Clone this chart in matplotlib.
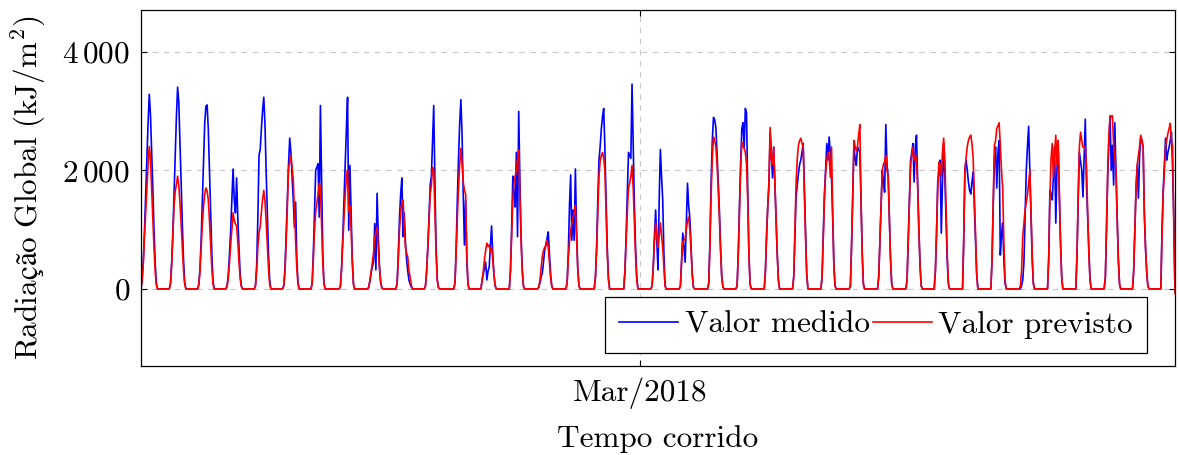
import datetime as dt
import numpy as np
import matplotlib
matplotlib.use("Agg")
import matplotlib.pyplot as plt
import matplotlib.dates as mdates

plt.rcParams['font.family'] = ['cmr10', 'STIXGeneral']
plt.rcParams['mathtext.fontset'] = 'cm'
plt.rcParams['axes.unicode_minus'] = False

# hourly series, Feb 11 09:00 to Mar 19 21:00 (night hours are zero)
inicio = dt.datetime(2018, 2, 11, 9)
fim = dt.datetime(2018, 3, 19, 21)
hora_inicio_dia = 10  # first daytime hour stored in each day list

# Valor medido: values for hours 10..23 of each day
medido_dia = [
    [160, 500, 1000, 1600, 2200, 2800, 3280, 2950, 2350, 1700, 1000, 450, 100, 0],
    [100, 450, 950, 1600, 2300, 2900, 3400, 3150, 2500, 1800, 1100, 500, 120, 0],
    [80, 350, 850, 1500, 2200, 2800, 3080, 3100, 2700, 2000, 1300, 600, 130, 0],
    [60, 250, 600, 1000, 1500, 2020, 1500, 1280, 1870, 1200, 700, 250, 50, 0],
    [60, 400, 1200, 2250, 2350, 2700, 3000, 3230, 2800, 2000, 1300, 600, 150, 0],
    [60, 350, 900, 1500, 2100, 2540, 2300, 1900, 1500, 1040, 1460, 500, 100, 0],
    [100, 600, 1300, 2000, 2050, 2110, 1210, 3090, 1800, 600, 100, 0, 0, 0],
    [50, 400, 900, 1500, 2100, 2700, 3230, 990, 2080, 1300, 500, 80, 0, 0],
    [30, 150, 280, 380, 450, 1100, 320, 1610, 900, 400, 120, 20, 0, 0],
    [100, 600, 1200, 1600, 1870, 880, 1280, 800, 500, 300, 150, 80, 30, 0],
    [50, 300, 700, 1200, 1750, 1900, 2500, 3090, 1800, 700, 150, 20, 0, 0],
    [0, 100, 700, 1500, 2200, 2800, 3190, 2600, 1600, 740, 1500, 500, 80, 0],
    [150, 250, 350, 450, 150, 300, 370, 700, 1060, 600, 250, 50, 0, 0],
    [300, 1000, 1900, 1600, 1380, 2300, 880, 2990, 1800, 900, 320, 50, 0, 0],
    [30, 100, 200, 270, 450, 650, 750, 850, 960, 600, 250, 50, 0, 0],
    [100, 600, 1400, 1920, 820, 1330, 820, 2020, 1000, 350, 50, 0, 0, 0],
    [200, 700, 1500, 2170, 2400, 2700, 2900, 3040, 2370, 1500, 700, 200, 0, 0],
    [0, 300, 900, 1600, 2300, 2250, 2200, 3450, 2400, 1400, 700, 200, 0, 0],
    [50, 400, 900, 1330, 800, 320, 1500, 2350, 1900, 1500, 600, 50, 0, 0],
    [50, 500, 940, 700, 450, 1100, 1780, 1400, 1190, 700, 250, 30, 0, 0],
    [100, 800, 1800, 2500, 2890, 2850, 2720, 2300, 1800, 1330, 700, 200, 30, 0],
    [50, 600, 1400, 2100, 2700, 2800, 2370, 3040, 2960, 1700, 600, 80, 0, 0],
    [300, 900, 1400, 1750, 2640, 2300, 1870, 2390, 1800, 1190, 600, 150, 0, 0],
    [200, 900, 1550, 1750, 1950, 2100, 2170, 2300, 2450, 1700, 900, 250, 0, 0],
    [200, 900, 1600, 2000, 2450, 2170, 2560, 2300, 1870, 1200, 400, 50, 0, 0],
    [50, 770, 1600, 2390, 2200, 2080, 2390, 2350, 2300, 1500, 600, 80, 0, 0],
    [200, 800, 1400, 2000, 1800, 1630, 2770, 2100, 1900, 1200, 500, 80, 0, 0],
    [150, 800, 1500, 2170, 2300, 2450, 1800, 2400, 2590, 1800, 1000, 400, 50, 0],
    [300, 910, 1800, 2000, 2170, 940, 1800, 2450, 1900, 1200, 500, 80, 0, 0],
    [800, 2000, 2170, 2000, 1800, 1660, 1600, 1800, 1970, 1400, 800, 250, 0, 0],
    [500, 1400, 2200, 2390, 1700, 2300, 2500, 570, 900, 1110, 500, 100, 0, 0],
    [0, 50, 150, 440, 1200, 2000, 2400, 2740, 2000, 1200, 500, 80, 0, 0],
    [500, 1660, 1600, 1500, 1900, 2390, 1110, 2000, 2500, 1600, 800, 200, 0, 0],
    [600, 1500, 2300, 2150, 2000, 1550, 2200, 2860, 1750, 1200, 600, 150, 0, 0],
    [200, 1000, 1900, 2500, 2890, 2000, 2420, 1750, 2800, 2000, 1200, 500, 80, 0],
    [300, 1000, 1700, 2080, 1530, 2250, 2560, 2500, 2390, 1300, 700, 300, 50, 0],
    [1000, 1660, 2100, 2540, 2170, 2300, 2390, 2500, 2640, 2000, 1200, 0],
]

# Valor previsto: values for hours 10..23 of each day
previsto_dia = [
    [150, 450, 900, 1300, 1700, 2100, 2400, 2200, 1700, 1200, 700, 300, 60, 0],
    [90, 400, 900, 1400, 1650, 1750, 1900, 1750, 1450, 1100, 700, 320, 80, 0],
    [70, 300, 700, 1100, 1400, 1600, 1700, 1650, 1500, 1150, 750, 350, 80, 0],
    [50, 200, 450, 750, 1000, 1280, 1150, 1100, 1050, 800, 450, 180, 40, 0],
    [50, 300, 700, 950, 1050, 1300, 1500, 1660, 1500, 1150, 750, 350, 80, 0],
    [50, 300, 800, 1400, 2030, 2150, 2250, 2050, 1830, 1300, 800, 350, 80, 0],
    [80, 500, 1000, 1300, 1440, 1600, 1780, 1700, 1100, 450, 80, 0, 0, 0],
    [50, 350, 800, 1200, 1600, 1850, 2000, 1300, 1400, 1000, 450, 80, 0, 0],
    [30, 150, 300, 450, 600, 870, 950, 1040, 700, 350, 120, 20, 0, 0],
    [100, 500, 1000, 1300, 1450, 1500, 1100, 700, 600, 540, 300, 200, 60, 0],
    [50, 300, 700, 1150, 1600, 1750, 2050, 2000, 1300, 600, 150, 20, 0, 0],
    [0, 100, 600, 1200, 1700, 2100, 2370, 2100, 1800, 1660, 1600, 600, 100, 0],
    [150, 300, 500, 650, 770, 720, 740, 620, 700, 500, 250, 60, 0, 0],
    [300, 900, 1500, 1780, 1900, 2000, 2200, 2340, 1600, 800, 300, 50, 0, 0],
    [30, 150, 350, 550, 650, 700, 720, 820, 700, 450, 200, 40, 0, 0],
    [100, 500, 800, 990, 1100, 1200, 1280, 1410, 900, 350, 60, 0, 0, 0],
    [200, 650, 1300, 1900, 2150, 2250, 2300, 2200, 2000, 1300, 600, 150, 0, 0],
    [0, 300, 800, 1300, 1700, 1780, 1900, 2080, 1700, 1100, 550, 150, 0, 0],
    [50, 350, 800, 1110, 900, 700, 900, 1110, 900, 700, 350, 50, 0, 0],
    [50, 450, 800, 820, 850, 1000, 1150, 1210, 1000, 650, 250, 30, 0, 0],
    [100, 700, 1600, 2200, 2560, 2500, 2400, 2100, 1700, 1200, 650, 200, 30, 0],
    [50, 550, 1300, 2000, 2470, 2400, 2370, 2300, 2100, 1500, 600, 80, 0, 0],
    [300, 900, 1400, 1800, 2720, 2180, 2100, 2390, 1800, 1190, 600, 150, 0, 0],
    [200, 1000, 1800, 2200, 2420, 2500, 2540, 2450, 2390, 1600, 850, 250, 0, 0],
    [200, 850, 1500, 1950, 2170, 2300, 2250, 1880, 2390, 1300, 400, 50, 0, 0],
    [50, 700, 1600, 2500, 2400, 2330, 2400, 2600, 2770, 1500, 600, 80, 0, 0],
    [200, 800, 1400, 2000, 2100, 2150, 2250, 2000, 1900, 1200, 500, 80, 0, 0],
    [150, 800, 1500, 2100, 2250, 2390, 2170, 2250, 2200, 1700, 1000, 400, 50, 0],
    [300, 1000, 1700, 2140, 2100, 1900, 2300, 2540, 2200, 1400, 600, 100, 0, 0],
    [800, 2000, 2200, 2400, 2500, 2560, 2590, 2450, 2200, 1600, 900, 250, 0, 0],
    [500, 1500, 2420, 2500, 2700, 2750, 2800, 2420, 2000, 1700, 800, 150, 0, 0],
    [50, 300, 880, 1100, 1330, 1450, 1580, 1800, 2000, 1330, 600, 100, 0, 0],
    [500, 1500, 2200, 2450, 1880, 2300, 2590, 2100, 2500, 1600, 800, 200, 0, 0],
    [600, 1600, 2400, 2640, 2500, 2390, 2390, 2390, 2080, 1300, 600, 150, 0, 0],
    [200, 1110, 2000, 2600, 2920, 2900, 2920, 2420, 2200, 2000, 1200, 500, 80, 0],
    [300, 1000, 1700, 2100, 2250, 2400, 2590, 2500, 2390, 1300, 700, 300, 50, 0],
    [900, 1600, 2000, 2390, 2500, 2620, 2700, 2790, 2500, 2390, 1000, -80],
]

ytick_vals = [0, 2000, 4000]
ytick_labels = ['$0$', r'$2\,000$', r'$4\,000$']
xtick_date = dt.datetime(2018, 3, 1)
xtick_label = 'Mar/2018'


def serie_horaria(dias):
    vals = np.zeros(len(dias) * 24)
    for d, lst in enumerate(dias):
        i0 = d * 24 + hora_inicio_dia
        vals[i0:i0 + len(lst)] = lst
    n = int((fim - inicio).total_seconds() // 3600) + 1
    return vals[inicio.hour:inicio.hour + n]


medido = serie_horaria(medido_dia)
previsto = serie_horaria(previsto_dia)
tempo = [inicio + dt.timedelta(hours=i) for i in range(len(medido))]

fig = plt.figure(figsize=(11.79, 4.55), dpi=100)
ax = fig.add_axes([141 / 1179, 1 - 366 / 455, 1034 / 1179, 356 / 455])

ax.plot(tempo, medido, color='#0000ff', lw=1.2, label='Valor medido')
ax.plot(tempo, previsto, color='#ff0000', lw=1.2, label='Valor previsto')

ax.set_xlim(inicio, fim)
ax.set_ylim(-1300, 4700)
ax.set_yticks(ytick_vals)
ax.set_yticklabels(ytick_labels)
ax.set_xticks([mdates.date2num(xtick_date)])
ax.set_xticklabels([xtick_label])

ax.grid(True, color='#c8c8c8', linestyle=(0, (5, 5)), linewidth=0.8)
ax.tick_params(direction='in', length=4, width=0.8, labelsize=22.5,
               top=True, right=True, pad=8)
for s in ax.spines.values():
    s.set_linewidth(0.9)

ax.set_xlabel('Tempo corrido', fontsize=22.5, labelpad=12)
# ç and ã are taken from STIX, the rest is Computer Modern via mathtext
ax.set_ylabel(r'$\mathrm{Radia}$çã$\mathrm{o\ Global\ (kJ/m^2)}$',
              fontsize=22.5, labelpad=10, family='STIXGeneral')

leg = ax.legend(loc='lower right', bbox_to_anchor=(0.973, 0.037), ncol=2,
                fontsize=22.5, frameon=True, fancybox=False, framealpha=1,
                edgecolor='black', borderaxespad=0, handlelength=1.9,
                handletextpad=0.2, columnspacing=0.1, borderpad=0.45)
leg.get_frame().set_linewidth(0.9)

fig.savefig('out.png', dpi=100)
